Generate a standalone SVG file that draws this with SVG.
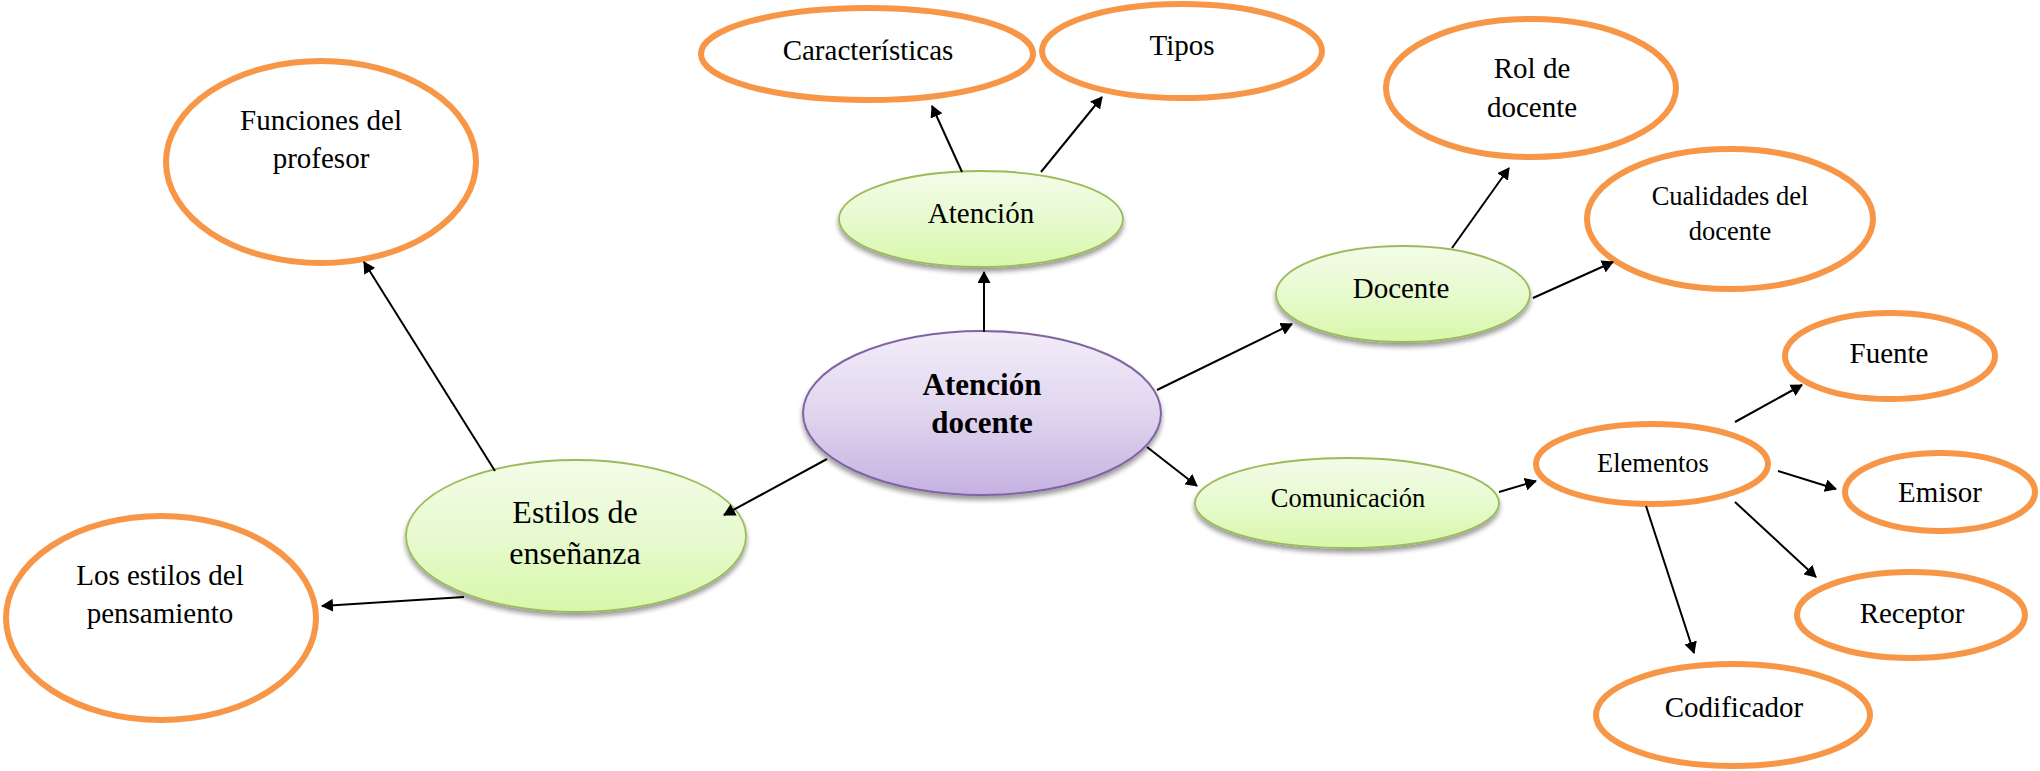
<svg xmlns="http://www.w3.org/2000/svg" width="2040" height="771" viewBox="0 0 2040 771">
<style>
.o{fill:#fff;stroke:#F79646;stroke-width:6}
.g{fill:url(#gg);stroke:#9BBB59;stroke-width:1.8;filter:url(#sh)}
.p{fill:url(#pg);stroke:#8064A2;stroke-width:2;filter:url(#sh)}
text{font-family:"Liberation Serif","Times New Roman",serif;fill:#000;text-anchor:middle}
.t29{font-size:29px}
.t26{font-size:26.5px}
.t32{font-size:32px}
.tb{font-size:31px;font-weight:bold}
.c line{stroke:#000;stroke-width:2;marker-end:url(#ah)}
</style>
<defs>
<linearGradient id="gg" x1="0" y1="0" x2="0" y2="1">
<stop offset="0" stop-color="#F3FCE9"/>
<stop offset="0.5" stop-color="#E7FACF"/>
<stop offset="1" stop-color="#D8F7AA"/>
</linearGradient>
<linearGradient id="pg" x1="0" y1="0" x2="0" y2="1">
<stop offset="0" stop-color="#F2EDF9"/>
<stop offset="0.5" stop-color="#E0D5EF"/>
<stop offset="1" stop-color="#C6B1E1"/>
</linearGradient>
<filter id="sh" x="-10%" y="-10%" width="120%" height="130%">
<feGaussianBlur in="SourceAlpha" stdDeviation="2.5"/>
<feOffset dy="4" result="b"/>
<feComponentTransfer><feFuncA type="linear" slope="0.4"/></feComponentTransfer>
<feMerge><feMergeNode/><feMergeNode in="SourceGraphic"/></feMerge>
</filter>
<marker id="ah" viewBox="0 0 12 13" markerWidth="12" markerHeight="13" refX="11" refY="6.5" orient="auto" markerUnits="userSpaceOnUse">
<path d="M0,0 L12,6.5 L0,13 z" fill="#000"/>
</marker>
</defs>
<g id="funciones"><ellipse class="o" cx="321" cy="162" rx="155" ry="101"/><text class="t29" x="321" y="130">Funciones del</text><text class="t29" x="321" y="168">profesor</text></g>
<g id="losestilos"><ellipse class="o" cx="161" cy="618" rx="155" ry="102"/><text class="t29" x="160" y="585">Los estilos del</text><text class="t29" x="160" y="623">pensamiento</text></g>
<g id="caracteristicas"><ellipse class="o" cx="867" cy="54" rx="166" ry="46"/><text class="t29" x="868" y="60">Características</text></g>
<g id="tipos"><ellipse class="o" cx="1182" cy="51" rx="140" ry="47"/><text class="t29" x="1182" y="55">Tipos</text></g>
<g id="rol"><ellipse class="o" cx="1531" cy="88" rx="145" ry="69"/><text class="t29" x="1532" y="78">Rol de</text><text class="t29" x="1532" y="117">docente</text></g>
<g id="cualidades"><ellipse class="o" cx="1730" cy="219" rx="143" ry="70"/><text class="t26" x="1730" y="205">Cualidades del</text><text class="t26" x="1730" y="240">docente</text></g>
<g id="fuente"><ellipse class="o" cx="1890" cy="356" rx="105" ry="43"/><text class="t29" x="1889" y="363">Fuente</text></g>
<g id="elementos"><ellipse class="o" cx="1652" cy="464" rx="116" ry="40"/><text class="t26" x="1653" y="472">Elementos</text></g>
<g id="emisor"><ellipse class="o" cx="1940" cy="492" rx="95" ry="39"/><text class="t29" x="1940" y="502">Emisor</text></g>
<g id="receptor"><ellipse class="o" cx="1911" cy="615" rx="114" ry="43"/><text class="t29" x="1912" y="623">Receptor</text></g>
<g id="codificador"><ellipse class="o" cx="1733" cy="715" rx="137" ry="51"/><text class="t29" x="1734" y="717">Codificador</text></g>
<g id="atencion"><ellipse class="g" cx="981" cy="219" rx="142" ry="48"/><text class="t29" x="981" y="223">Atención</text></g>
<g id="docente"><ellipse class="g" cx="1403" cy="294" rx="127" ry="48"/><text class="t29" x="1401" y="298">Docente</text></g>
<g id="comunicacion"><ellipse class="g" cx="1347" cy="503" rx="152" ry="45"/><text class="t26" x="1348" y="507">Comunicación</text></g>
<g id="estilos"><ellipse class="g" cx="576" cy="536" rx="170" ry="76"/><text class="t32" x="575" y="523">Estilos de</text><text class="t32" x="575" y="564">enseñanza</text></g>
<g id="central"><ellipse class="p" cx="982" cy="413" rx="179" ry="82"/><text class="tb" x="982" y="395">Atención</text><text class="tb" x="982" y="433">docente</text></g>
<g class="c" id="connectors">
<line x1="984" y1="332" x2="984" y2="272"/>
<line x1="962" y1="172" x2="932" y2="106"/>
<line x1="1041" y1="172" x2="1102" y2="97"/>
<line x1="1157" y1="390" x2="1292" y2="324"/>
<line x1="1452" y1="248" x2="1509" y2="168"/>
<line x1="1533" y1="298" x2="1613" y2="262"/>
<line x1="1147" y1="447" x2="1197" y2="486"/>
<line x1="1499" y1="492" x2="1536" y2="481"/>
<line x1="1735" y1="422" x2="1802" y2="385"/>
<line x1="1778" y1="471" x2="1836" y2="489"/>
<line x1="1735" y1="502" x2="1816" y2="577"/>
<line x1="1646" y1="506" x2="1694" y2="653"/>
<line x1="827" y1="459" x2="724" y2="515"/>
<line x1="495" y1="471" x2="364" y2="262"/>
<line x1="464" y1="597" x2="322" y2="606"/>
</g>
</svg>
